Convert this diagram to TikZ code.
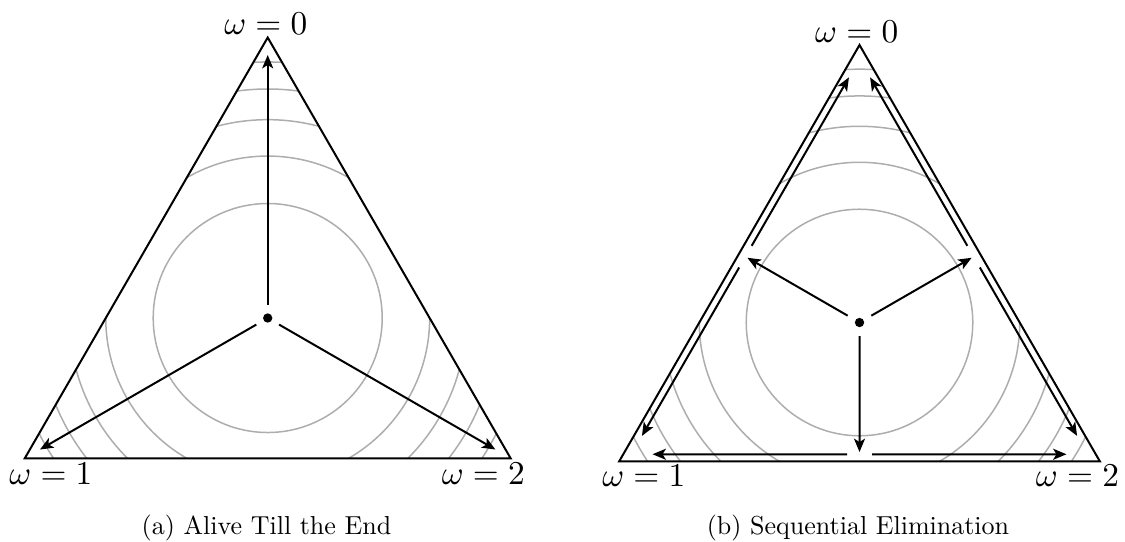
\documentclass[tikz,border=0pt]{standalone}
\usepackage{graphicx}
\usetikzlibrary{calc,arrows.meta}
\begin{document}
\begin{tikzpicture}[x=0.3pt,y=0.3pt,
  edge/.style={line width=0.6pt, line join=miter},
  level/.style={line width=0.45pt, black!32},
  arr/.style={line width=0.6pt, -{Stealth[length=4pt,width=3.3pt,inset=1pt]}},
  dot/.style={circle, fill=black, inner sep=0pt, minimum size=2.8pt},
  lab/.style={anchor=base, inner sep=0pt},
  captext/.style={anchor=base, inner sep=0pt}]
\useasboundingbox (0,0) rectangle (1125,541);

% ---------------- (a) ----------------
\coordinate (Lc) at (267.7,223);
\coordinate (L0) at (267.7,503.5);
\coordinate (L1) at (24.8,82.75);
\coordinate (L2) at (510.6,82.75);
\begin{scope}
  \clip (L0)--(L1)--(L2)--cycle;
  \foreach \k in {1,...,5} \draw[level] (Lc) circle[radius={280.5*sqrt(\k/6)}];
\end{scope}
\draw[edge] (L0)--(L1)--(L2)--cycle;
\node[dot] (ld) at (Lc) {};
\foreach \v in {L0,L1,L2} \draw[arr, shorten <=2.35pt, shorten >=5.25pt] (ld) -- (\v);
\node[lab] (l0) at (265.8,506.5) {$\omega=0$};
\node[lab] (l1) at (50.9,56.7) {$\omega=1$};
\node[lab] (l2) at (483.3,56.7) {$\omega=2$};
\node[captext] (capa) at (266.5,6.5) {\scalebox{0.78}{(a) Alive Till the End}};

% ---------------- (b) ----------------
\coordinate (Rc) at (859.5,218.5);
\coordinate (R0) at (859.5,496);
\coordinate (R1) at (619.2,79.75);
\coordinate (R2) at (1099.8,79.75);
\begin{scope}
  \clip (R0)--(R1)--(R2)--cycle;
  \foreach \k in {1,...,5} \draw[level] (Rc) circle[radius={277.5*sqrt(\k/6)}];
\end{scope}
\draw[edge] (R0)--(R1)--(R2)--cycle;
\node[dot] (rd) at (Rc) {};
\coordinate (M01) at ($(R0)!0.5!(R1)$);
\coordinate (M02) at ($(R0)!0.5!(R2)$);
\coordinate (M12) at ($(R1)!0.5!(R2)$);
\foreach \m in {M01,M02,M12} \draw[arr, shorten <=2.5pt, shorten >=2.78pt] (rd) -- (\m);
\coordinate (I0) at ($(Rc)!0.9495!(R0)$);
\coordinate (I1) at ($(Rc)!0.9495!(R1)$);
\coordinate (I2) at ($(Rc)!0.9495!(R2)$);
\coordinate (N01) at ($(I0)!0.5!(I1)$);
\coordinate (N02) at ($(I0)!0.5!(I2)$);
\coordinate (N12) at ($(I1)!0.5!(I2)$);
\begin{scope}[arr, shorten <=3.75pt, shorten >=6.36pt]
  \draw (N01) -- (I0);
  \draw (N01) -- (I1);
  \draw (N02) -- (I0);
  \draw (N02) -- (I2);
  \draw (N12) -- (I1);
  \draw (N12) -- (I2);
\end{scope}
\node[lab] (r0) at (856.7,498.5) {$\omega=0$};
\node[lab] (r1) at (643.8,54.3) {$\omega=1$};
\node[lab] (r2) at (1077.5,54.3) {$\omega=2$};
\node[captext] (capb) at (858,6.5) {\scalebox{0.78}{(b) Sequential Elimination}};
\end{tikzpicture}
\end{document}
